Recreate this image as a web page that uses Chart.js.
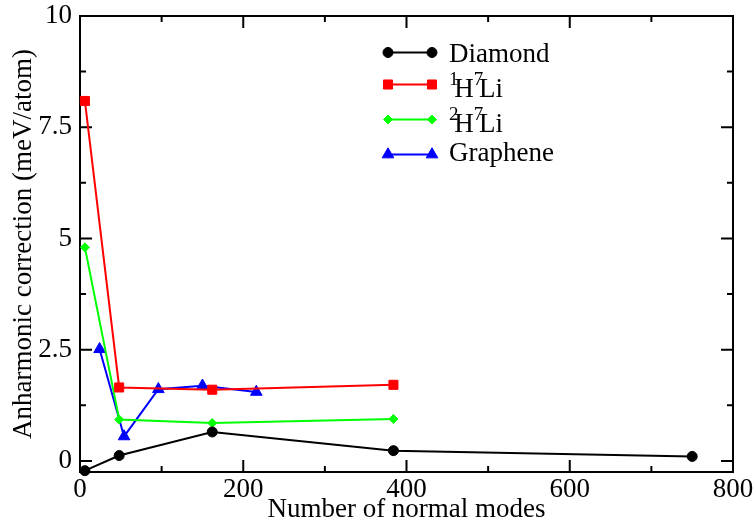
<!DOCTYPE html>
<html>
<head>
<meta charset="utf-8">
<script src="https://cdn.jsdelivr.net/npm/chart.js@4"></script>
<style>
  body { margin: 0; background: #fff; }
  canvas { display: block; }
</style>
</head>
<body>
<canvas id="chart" width="756" height="526"></canvas>
<script>
// Values
const diamondModes = [6, 48, 162, 384, 750];
const diamondCorr = [-0.22, 0.12, 0.65, 0.23, 0.10];
const h1Modes = [6, 48, 162, 384];
const h1Corr = [8.09, 1.65, 1.60, 1.71];
const h2Modes = [6, 48, 162, 384];
const h2Corr = [4.80, 0.93, 0.85, 0.94];
const grapheneModes = [24, 54, 96, 150, 216];
const grapheneCorr = [2.51, 0.55, 1.61, 1.69, 1.55];

const xTicks = [0, 200, 400, 600, 800];
const xMinorTicks = [100, 300, 500, 700];
const yTicks = [0, 2.5, 5, 7.5, 10];
const yTickLabels = ['0', '2.5', '5', '7.5', '10'];
const yMinorTicks = [1.25, 3.75, 6.25, 8.75];

const seriesNames = ['Diamond', '1H7Li', '2H7Li', 'Graphene'];
// legend text pieces: [text, superscript?]
const legendPieces = [
    [['Diamond', false]],
    [['1', true], ['H', false], ['7', true], ['Li', false]],
    [['2', true], ['H', false], ['7', true], ['Li', false]],
    [['Graphene', false]]
];

const FONT = "'Liberation Serif', serif";
const FONT_SIZE = 27;
const SUP_SIZE = 19;
const SUP_RISE = 12;

Chart.defaults.font.family = FONT;
Chart.defaults.font.size = FONT_SIZE;
Chart.defaults.color = '#000';

function toPoints(xs, ys) {
    return xs.map((x, i) => ({ x: x, y: ys[i] }));
}

function series(label, xs, ys, color, style, radius) {
    return {
        label: label,
        data: toPoints(xs, ys),
        showLine: true,
        borderColor: color,
        backgroundColor: color,
        borderWidth: 2,
        pointStyle: style,
        pointRadius: radius,
        pointBackgroundColor: color,
        pointBorderColor: color,
        pointBorderWidth: 1,
        clip: false
    };
}

// frame with inward ticks on all four sides
const framePlugin = {
    id: 'frame',
    beforeDatasetsDraw(chart) {
        const { ctx, chartArea: a, scales: { x, y } } = chart;
        ctx.save();
        ctx.strokeStyle = '#000';
        ctx.lineWidth = 2;
        ctx.beginPath();
        const xTick = (vals, len) => vals.forEach(v => {
            const px = x.getPixelForValue(v);
            ctx.moveTo(px, a.bottom); ctx.lineTo(px, a.bottom - len);
            ctx.moveTo(px, a.top); ctx.lineTo(px, a.top + len);
        });
        const yTick = (vals, len) => vals.forEach(v => {
            const py = y.getPixelForValue(v);
            ctx.moveTo(a.left, py); ctx.lineTo(a.left + len, py);
            ctx.moveTo(a.right, py); ctx.lineTo(a.right - len, py);
        });
        xTick(xTicks, 12);
        xTick(xMinorTicks, 6);
        yTick(yTicks, 12);
        yTick(yMinorTicks, 6);
        ctx.stroke();
        ctx.strokeRect(a.left, a.top, a.right - a.left, a.bottom - a.top);
        ctx.restore();
    }
};

// legend with superscripts, drawn inside the plot
const legendPlugin = {
    id: 'richLegend',
    afterDraw(chart) {
        const ctx = chart.ctx;
        const lineX1 = 388, lineX2 = 432, textX = 449;
        let top = 43;
        ctx.save();
        chart.data.datasets.forEach((ds, i) => {
            const pieces = legendPieces[i];
            let asc = 0, desc = 0;
            pieces.forEach(([t, sup]) => {
                ctx.font = (sup ? SUP_SIZE : FONT_SIZE) + 'px ' + FONT;
                const m = ctx.measureText(t);
                const rise = sup ? SUP_RISE : 0;
                asc = Math.max(asc, m.actualBoundingBoxAscent + rise);
                desc = Math.max(desc, m.actualBoundingBoxDescent - rise);
            });
            const baseline = top + asc;
            const midY = baseline + (desc - asc) / 2;

            ctx.strokeStyle = ds.borderColor;
            ctx.fillStyle = ds.borderColor;
            ctx.lineWidth = 2;
            ctx.beginPath();
            ctx.moveTo(lineX1, midY);
            ctx.lineTo(lineX2, midY);
            ctx.stroke();
            const opts = { pointStyle: ds.pointStyle, radius: ds.pointRadius, rotation: 0, borderWidth: 1 };
            ctx.lineWidth = 1;
            Chart.helpers.drawPoint(ctx, opts, lineX1, midY);
            Chart.helpers.drawPoint(ctx, opts, lineX2, midY);

            ctx.fillStyle = '#000';
            ctx.textBaseline = 'alphabetic';
            ctx.textAlign = 'left';
            let x = textX;
            pieces.forEach(([t, sup]) => {
                ctx.font = (sup ? SUP_SIZE : FONT_SIZE) + 'px ' + FONT;
                ctx.fillText(t, x, sup ? baseline - SUP_RISE : baseline);
                const w = ctx.measureText(t).width;
                x += sup ? w * 0.55 : w;
            });
            top = baseline + desc + 10;
        });
        ctx.restore();
    }
};

const ctx = document.getElementById('chart').getContext('2d');

new Chart(ctx, {
    type: 'scatter',
    data: {
        datasets: [
            series(seriesNames[0], diamondModes, diamondCorr, '#000000', 'circle', 5),
            series(seriesNames[1], h1Modes, h1Corr, '#ff0000', 'rect', 6.4),
            series(seriesNames[2], h2Modes, h2Corr, '#00ff00', 'rectRot', 4.5),
            series(seriesNames[3], grapheneModes, grapheneCorr, '#0000ff', 'triangle', 6.7)
        ]
    },
    options: {
        responsive: false,
        animation: false,
        layout: { padding: { top: 16, right: 23, left: 0, bottom: 0 } },
        plugins: {
            legend: { display: false },
            tooltip: { enabled: false }
        },
        scales: {
            x: {
                type: 'linear',
                min: 0,
                max: 800,
                afterFit: s => {
                    s.height = 54;
                    s.paddingLeft = 0;
                    s.paddingRight = 0;
                },
                afterBuildTicks: s => { s.ticks = xTicks.map(v => ({ value: v })); },
                grid: { display: false, drawTicks: false },
                border: { display: false },
                ticks: {
                    font: { family: FONT, size: FONT_SIZE },
                    color: '#000',
                    padding: 2,
                    maxRotation: 0
                },
                title: {
                    display: true,
                    text: 'Number of normal modes',
                    font: { family: FONT, size: FONT_SIZE },
                    color: '#000',
                    padding: { top: 0, bottom: 0 }
                }
            },
            y: {
                type: 'linear',
                min: -0.25,
                max: 10,
                afterFit: s => {
                    s.width = 80;
                    s.paddingTop = 0;
                    s.paddingBottom = 0;
                },
                afterBuildTicks: s => { s.ticks = yTicks.map(v => ({ value: v })); },
                grid: { display: false, drawTicks: false },
                border: { display: false },
                ticks: {
                    font: { family: FONT, size: FONT_SIZE },
                    color: '#000',
                    padding: 8,
                    callback: v => yTickLabels[yTicks.indexOf(v)]
                },
                title: {
                    display: true,
                    text: 'Anharmonic correction (meV/atom)',
                    font: { family: FONT, size: FONT_SIZE },
                    color: '#000',
                    padding: { top: 8, bottom: 0 }
                }
            }
        }
    },
    plugins: [framePlugin, legendPlugin]
});
</script>
</body>
</html>
